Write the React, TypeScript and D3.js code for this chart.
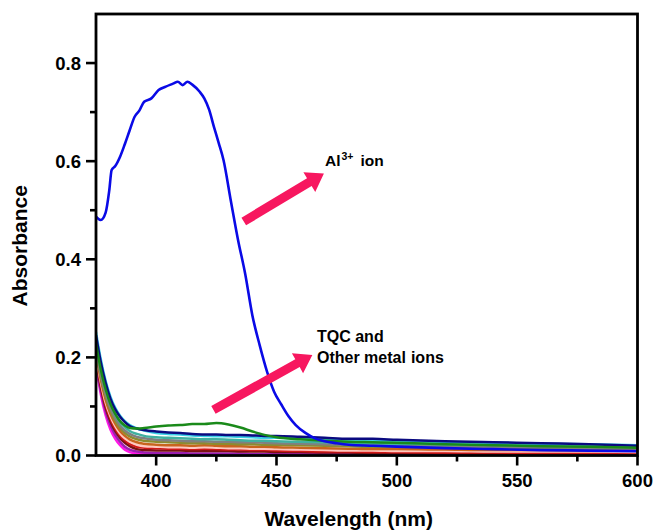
import React from 'react';
import * as d3 from 'd3';

// wavelength grid (nm)
const alWavelengths = [375, 377, 379, 380.5, 381.5, 383, 385, 387, 389, 391, 393, 395, 398, 401, 404, 407, 409, 411, 413, 415, 418, 420, 422, 424, 426, 428, 431, 434, 437, 440, 443, 446, 449, 452, 455, 458, 462, 466, 470, 475, 480, 490, 500, 520, 540, 560, 580, 600];
const al3Ion = [0.487, 0.48, 0.495, 0.54, 0.582, 0.59, 0.609, 0.635, 0.663, 0.69, 0.703, 0.721, 0.728, 0.745, 0.752, 0.758, 0.762, 0.755, 0.762, 0.756, 0.742, 0.728, 0.705, 0.67, 0.637, 0.602, 0.52, 0.44, 0.37, 0.285, 0.225, 0.172, 0.13, 0.104, 0.08, 0.062, 0.046, 0.035, 0.029, 0.025, 0.022, 0.02, 0.018, 0.015, 0.013, 0.011, 0.01, 0.009];

const wavelengths = [375, 377, 379, 381, 383, 385, 387, 389, 392, 395, 400, 405, 410, 415, 420, 425, 430, 435, 440, 445, 450, 460, 470, 480, 490, 500, 520, 540, 560, 580, 600];
const ionCyan = [0.252, 0.196, 0.152, 0.12, 0.097, 0.081, 0.07, 0.062, 0.055, 0.051, 0.046, 0.044, 0.043, 0.041, 0.04, 0.039, 0.039, 0.038, 0.037, 0.036, 0.036, 0.034, 0.033, 0.031, 0.03, 0.029, 0.027, 0.026, 0.024, 0.023, 0.021];
const tqcNavy = [0.245, 0.19, 0.148, 0.116, 0.094, 0.079, 0.068, 0.06, 0.055, 0.052, 0.049, 0.047, 0.046, 0.044, 0.043, 0.043, 0.042, 0.042, 0.041, 0.04, 0.04, 0.038, 0.036, 0.034, 0.034, 0.032, 0.029, 0.027, 0.025, 0.023, 0.02];
const ionGreen = [0.228, 0.175, 0.135, 0.105, 0.085, 0.07, 0.061, 0.056, 0.055, 0.056, 0.059, 0.061, 0.062, 0.064, 0.064, 0.066, 0.063, 0.057, 0.049, 0.042, 0.037, 0.033, 0.03, 0.028, 0.027, 0.026, 0.023, 0.021, 0.019, 0.018, 0.016];
const ionTeal = [0.235, 0.178, 0.136, 0.105, 0.084, 0.068, 0.058, 0.05, 0.044, 0.04, 0.037, 0.036, 0.035, 0.034, 0.033, 0.033, 0.032, 0.031, 0.03, 0.03, 0.029, 0.028, 0.027, 0.026, 0.025, 0.024, 0.023, 0.022, 0.021, 0.02, 0.019];
const ionGray = [0.22, 0.165, 0.125, 0.096, 0.076, 0.061, 0.051, 0.044, 0.038, 0.035, 0.032, 0.031, 0.03, 0.029, 0.029, 0.028, 0.028, 0.027, 0.027, 0.026, 0.025, 0.024, 0.023, 0.022, 0.021, 0.02, 0.019, 0.018, 0.017, 0.016, 0.015];
const ionOlive = [0.215, 0.16, 0.12, 0.091, 0.071, 0.056, 0.046, 0.039, 0.033, 0.03, 0.028, 0.027, 0.026, 0.025, 0.025, 0.024, 0.024, 0.023, 0.023, 0.022, 0.022, 0.021, 0.02, 0.019, 0.018, 0.018, 0.017, 0.016, 0.016, 0.015, 0.015];
const ionOrange = [0.21, 0.155, 0.114, 0.085, 0.065, 0.05, 0.04, 0.033, 0.027, 0.024, 0.022, 0.021, 0.021, 0.02, 0.021, 0.02, 0.019, 0.019, 0.018, 0.018, 0.017, 0.016, 0.015, 0.014, 0.013, 0.013, 0.012, 0.011, 0.011, 0.01, 0.01];
const ionPink = [0.205, 0.15, 0.108, 0.08, 0.06, 0.045, 0.035, 0.028, 0.022, 0.019, 0.018, 0.017, 0.017, 0.016, 0.017, 0.016, 0.015, 0.015, 0.014, 0.014, 0.013, 0.012, 0.011, 0.01, 0.01, 0.009, 0.009, 0.008, 0.008, 0.008, 0.007];
const ionRed = [0.2, 0.145, 0.103, 0.075, 0.055, 0.041, 0.031, 0.024, 0.018, 0.016, 0.015, 0.014, 0.014, 0.013, 0.014, 0.013, 0.012, 0.012, 0.011, 0.011, 0.01, 0.009, 0.008, 0.008, 0.007, 0.007, 0.006, 0.006, 0.005, 0.005, 0.005];
const ionMaroon = [0.195, 0.14, 0.098, 0.07, 0.05, 0.036, 0.026, 0.019, 0.013, 0.011, 0.01, 0.01, 0.01, 0.009, 0.009, 0.009, 0.009, 0.008, 0.008, 0.008, 0.007, 0.007, 0.006, 0.006, 0.005, 0.005, 0.005, 0.004, 0.004, 0.004, 0.004];
const ionPurple = [0.19, 0.132, 0.09, 0.062, 0.042, 0.028, 0.018, 0.012, 0.008, 0.006, 0.005, 0.005, 0.005, 0.004, 0.004, 0.004, 0.004, 0.004, 0.003, 0.003, 0.003, 0.003, 0.003, 0.003, 0.002, 0.002, 0.002, 0.002, 0.002, 0.002, 0.002];
const ionMagenta = [0.185, 0.125, 0.082, 0.053, 0.034, 0.021, 0.012, 0.007, 0.004, 0.003, 0.002, 0.002, 0.002, 0.002, 0.002, 0.002, 0.002, 0.002, 0.002, 0.001, 0.001, 0.001, 0.001, 0.001, 0.001, 0.001, 0.001, 0.001, 0.001, 0.001, 0.001];

const xTicks = [400, 450, 500, 550, 600];
const xMinorTicks = [425, 475, 525, 575];
const yTicks = [0, 0.2, 0.4, 0.6, 0.8];
const yMinorTicks = [0.1, 0.3, 0.5, 0.7];

// arrows in data units: [tail nm, tail abs, tip nm, tip abs]
const alArrow = [436.4, 0.477, 469.7, 0.575];
const otherArrow = [423.8, 0.093, 464.9, 0.205];

const W = 655;
const H = 531;
const FONT = '"Liberation Sans", Arial, sans-serif';
const ARROW = '#f7175f';

const x = d3.scaleLinear().domain([375, 600]).range([96, 637.5]);
const y = d3.scaleLinear().domain([0, 0.9]).range([455.5, 14]);

const others = [
  { values: ionMagenta, color: '#ff18e6' },
  { values: ionPurple, color: '#9a20b0' },
  { values: ionMaroon, color: '#7a1212' },
  { values: ionRed, color: '#d01818' },
  { values: ionPink, color: '#ffc8c0' },
  { values: ionOrange, color: '#c8641e' },
  { values: ionOlive, color: '#8c8c30' },
  { values: ionGray, color: '#808080' },
  { values: ionTeal, color: '#40b0a0' },
  { values: ionCyan, color: '#3cd2e6' },
  { values: tqcNavy, color: '#0a0a80' },
  { values: ionGreen, color: '#1a8a1a' },
];

function arrowPoints(a: number[]) {
  const x1 = x(a[0]), y1 = y(a[1]), x2 = x(a[2]), y2 = y(a[3]);
  const len = Math.hypot(x2 - x1, y2 - y1);
  const ux = (x2 - x1) / len, uy = (y2 - y1) / len;
  const nx = -uy, ny = ux;
  const sw = 9, hw = 23, hl = 17;
  const bx = x2 - ux * hl, by = y2 - uy * hl;
  const pts = [
    [x1 + nx * sw / 2, y1 + ny * sw / 2],
    [bx + nx * sw / 2, by + ny * sw / 2],
    [bx + nx * hw / 2, by + ny * hw / 2],
    [x2, y2],
    [bx - nx * hw / 2, by - ny * hw / 2],
    [bx - nx * sw / 2, by - ny * sw / 2],
    [x1 - nx * sw / 2, y1 - ny * sw / 2],
  ];
  return pts.map((p) => p.join(',')).join(' ');
}

export default function App() {
  const otherLine = d3
    .line<number>()
    .x((_, i) => x(wavelengths[i]))
    .y((d) => y(d))
    .curve(d3.curveMonotoneX);
  const alLine = d3
    .line<number>()
    .x((_, i) => x(alWavelengths[i]))
    .y((d) => y(d))
    .curve(d3.curveMonotoneX);

  const x0 = x.range()[0], x1 = x.range()[1];
  const y0 = y.range()[0], y1 = y.range()[1];

  return (
    <svg width={W} height={H} style={{ position: 'absolute', left: 0, top: 0, background: '#fff' }} fontFamily={FONT}>
      <defs>
        <clipPath id="plot">
          <rect x={x0} y={y1} width={x1 - x0} height={y0 - y1} />
        </clipPath>
      </defs>

      <g clipPath="url(#plot)" fill="none" strokeWidth={2.5} strokeLinejoin="round">
        {others.map((s, i) => (
          <path key={i} d={otherLine(s.values) || ''} stroke={s.color} />
        ))}
        <path d={alLine(al3Ion) || ''} stroke="#0a0ae6" strokeWidth={2.6} />
      </g>

      {/* frame */}
      <rect x={x0} y={y1} width={x1 - x0} height={y0 - y1} fill="none" stroke="#000" strokeWidth={2.8} />

      {/* y axis */}
      {yTicks.map((t) => (
        <g key={t}>
          <line x1={x0 - 10} x2={x0} y1={y(t)} y2={y(t)} stroke="#000" strokeWidth={2.6} />
          <text x={x0 - 15} y={y(t)} dy="0.36em" textAnchor="end" fontSize={18.5} fontWeight="bold">
            {t.toFixed(1)}
          </text>
        </g>
      ))}
      {yMinorTicks.map((t) => (
        <line key={t} x1={x0 - 6} x2={x0} y1={y(t)} y2={y(t)} stroke="#000" strokeWidth={2.6} />
      ))}

      {/* x axis */}
      {xTicks.map((t) => (
        <g key={t}>
          <line x1={x(t)} x2={x(t)} y1={y0} y2={y0 + 10} stroke="#000" strokeWidth={2.6} />
          <text x={x(t)} y={487} textAnchor="middle" fontSize={18.5} fontWeight="bold">
            {t}
          </text>
        </g>
      ))}
      {xMinorTicks.map((t) => (
        <line key={t} x1={x(t)} x2={x(t)} y1={y0} y2={y0 + 6} stroke="#000" strokeWidth={2.6} />
      ))}

      <text x={(x0 + x1) / 2 - 18} y={526} textAnchor="middle" fontSize={21} fontWeight="bold">
        Wavelength (nm)
      </text>
      <text transform={`translate(27,${(y0 + y1) / 2 + 11}) rotate(-90)`} textAnchor="middle" fontSize={21} fontWeight="bold">
        Absorbance
      </text>

      {/* annotations */}
      <polygon points={arrowPoints(alArrow)} fill={ARROW} />
      <polygon points={arrowPoints(otherArrow)} fill={ARROW} />

      <text x={325} y={166} fontSize={15.5} fontWeight="bold">
        Al<tspan fontSize={10.5} dy={-6} dx={1}>3+</tspan>
        <tspan dy={6} dx={7}>ion</tspan>
      </text>
      <text x={317} y={342} fontSize={16} fontWeight="bold">
        TQC and
      </text>
      <text x={317} y={363} fontSize={16} fontWeight="bold">
        Other metal<tspan dx={5}>ions</tspan>
      </text>
    </svg>
  );
}
